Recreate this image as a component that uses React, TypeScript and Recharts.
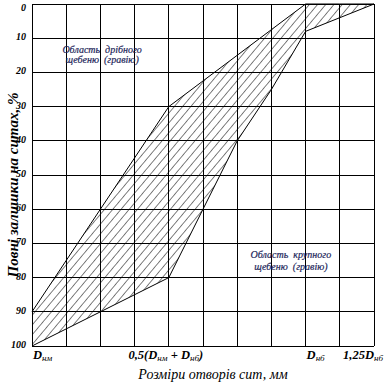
import React from 'react';
import { ComposedChart, Area, XAxis, YAxis, CartesianGrid, ReferenceDot, Label } from 'recharts';

// grid steps along the sieve-size axis (Dнм = 0, 0,5(Dнм+Dнб) = 4, Dнб = 8, 1,25Dнб = 10)
const sieveSteps = [0, 2, 4, 5, 6, 7, 8, 9, 10];
// boundary of fine crushed stone (smaller residues)
const fineLimit = [90, 60, 30, 22.5, 15, 7.5, 0, 0, 0];
// boundary of coarse crushed stone (larger residues)
const coarseLimit = [100, 90, 80, 60, 40, 25, 8, 4, 0];

const xTicks = [0, 1, 2, 3, 4, 5, 6, 7, 8, 9, 10];
const yTicks = [0, 10, 20, 30, 40, 50, 60, 70, 80, 90, 100];

// tick label segments: [text, isSubscript]
const xTickLabels: Record<number, [string, boolean][]> = {
  0: [['D', false], ['нм', true]],
  4: [['0,5(D', false], ['нм', true], [' + D', false], ['нб', true], [')', false]],
  8: [['D', false], ['нб', true]],
  10: [['1,25D', false], ['нб', true]],
};

const fineAreaText = ['Область  дрібного', 'щебеню  (гравію)'];
const coarseAreaText = ['Область  крупного', 'щебеню  (гравію)'];
const yTitle = 'Повні залишки на ситах, %';
const xTitle = 'Розміри отворів сит, мм';

const data = sieveSteps.map((s, i) => ({ s, band: [fineLimit[i], coarseLimit[i]] }));

const FONT = '"Liberation Serif", "Times New Roman", serif';

const tickPlacement: Record<number, { anchor: 'start' | 'middle' | 'end'; dx: number }> = {
  0: { anchor: 'start', dx: 1 },
  4: { anchor: 'middle', dx: -3 },
  8: { anchor: 'start', dx: 1 },
  10: { anchor: 'end', dx: 9 },
};

const XTick = (props: any) => {
  const { x, y, payload } = props;
  const segs = xTickLabels[payload.value];
  if (!segs) return null;
  const pl = tickPlacement[payload.value];
  let prevSub = false;
  return (
    <text
      x={x + pl.dx}
      y={y + 13}
      textAnchor={pl.anchor}
      fontFamily={FONT}
      fontStyle="italic"
      fill="#000"
    >
      {segs.map(([t, sub], i) => {
        let dy = 0;
        if (sub && !prevSub) dy = 2;
        if (!sub && prevSub) dy = -2;
        prevSub = sub;
        return (
          <tspan key={i} dy={dy} fontSize={sub ? 9 : 12.5} fontWeight={sub ? 'normal' : 'bold'}>
            {t}
          </tspan>
        );
      })}
    </text>
  );
};

const YTick = (props: any) => {
  const { x, y, payload } = props;
  const first = payload.value === 0;
  return (
    <text
      x={x - 6}
      y={first ? y + 7 : y + 2}
      textAnchor="end"
      fontFamily={FONT}
      fontStyle="italic"
      fontWeight="bold"
      fontSize={10}
      fill="#000"
    >
      {payload.value}
    </text>
  );
};

const areaLabel = (lines: string[], dy1: number, dy2: number) => (props: any) => {
  const vb = props.viewBox || {};
  const cx = (vb.x ?? 0) + (vb.width ?? 0) / 2;
  const cy = (vb.y ?? 0) + (vb.height ?? 0) / 2;
  return (
    <text
      x={cx}
      y={cy}
      textAnchor="middle"
      fontFamily={FONT}
      fontStyle="italic"
      fontSize={10}
      fill="#1c1f5a"
      stroke="#1c1f5a"
      strokeWidth={0.2}
      style={{ whiteSpace: 'pre' }}
    >
      <tspan x={cx} y={cy + dy1}>{lines[0]}</tspan>
      <tspan x={cx} y={cy + dy2}>{lines[1]}</tspan>
    </text>
  );
};

export default function App() {
  return (
    <div style={{ position: 'absolute', left: 0, top: 0, width: 388, height: 388, background: '#fff' }}>
      <ComposedChart
        width={388}
        height={388}
        data={data}
        margin={{ top: 4, right: 14, left: 0, bottom: 12 }}
      >
        <defs>
          <pattern
            id="hatch"
            patternUnits="userSpaceOnUse"
            width={6.3}
            height={6.3}
            patternTransform="rotate(40)"
          >
            <line x1={0} y1={0} x2={0} y2={6.3} stroke="#000" strokeWidth={1} />
          </pattern>
        </defs>
        <CartesianGrid stroke="#000" strokeWidth={1} strokeDasharray="" shapeRendering="crispEdges" />
        <XAxis
          dataKey="s"
          type="number"
          domain={[0, 10]}
          ticks={xTicks}
          interval={0}
          tick={<XTick />}
          tickLine={false}
          axisLine={false}
          tickSize={0}
          tickMargin={0}
          height={30}
        >
          <Label
            content={(p: any) => {
              const vb = p.viewBox;
              return (
                <text
                  x={vb.x + vb.width / 2 + 10}
                  y={vb.y + 33}
                  textAnchor="middle"
                  fontFamily={FONT}
                  fontStyle="italic"
                  fontSize={14}
                  fill="#000"
                >
                  {xTitle}
                </text>
              );
            }}
          />
        </XAxis>
        <YAxis
          type="number"
          reversed
          domain={[0, 100]}
          ticks={yTicks}
          interval={0}
          tick={<YTick />}
          tickLine={false}
          axisLine={false}
          tickSize={0}
          tickMargin={0}
          width={32}
        >
          <Label
            content={(p: any) => {
              const vb = p.viewBox;
              const cx = 13;
              const cy = vb.y + vb.height / 2 + 10;
              return (
                <text
                  x={cx}
                  y={cy}
                  transform={`rotate(-90 ${cx} ${cy})`}
                  textAnchor="middle"
                  dominantBaseline="central"
                  fontFamily={FONT}
                  fontStyle="italic"
                  fontWeight="bold"
                  fontSize={15}
                  fill="#000"
                >
                  {yTitle}
                </text>
              );
            }}
          />
        </YAxis>
        <Area
          type="linear"
          dataKey="band"
          stroke="#000"
          strokeWidth={1}
          fill="url(#hatch)"
          fillOpacity={1}
          isAnimationActive={false}
          dot={false}
          activeDot={false}
        />
        <ReferenceDot
          x={2.05}
          y={14.9}
          r={0}
          fill="none"
          stroke="none"
          label={areaLabel(fineAreaText, -2, 8)}
        />
        <ReferenceDot
          x={7.57}
          y={75.1}
          r={0}
          fill="none"
          stroke="none"
          label={areaLabel(coarseAreaText, -3, 9)}
        />
      </ComposedChart>
    </div>
  );
}
